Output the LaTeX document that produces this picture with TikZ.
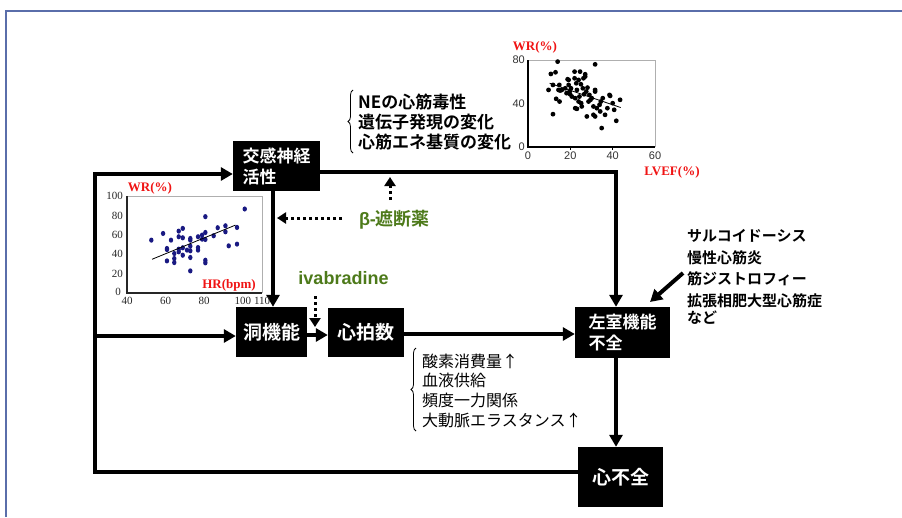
\documentclass[tikz,border=0pt]{standalone}
\usepackage{fontspec}
\usetikzlibrary{arrows.meta,decorations.pathreplacing}
\newfontfamily\jp{Noto Sans CJK JP}[BoldFont={Noto Sans CJK JP Bold}]
\newfontfamily\lsans{Liberation Sans}
\newfontfamily\lserif{Liberation Serif}
\definecolor{framec}{RGB}{90,110,170}
\definecolor{drgreen}{RGB}{77,122,26}
\definecolor{wrred}{RGB}{240,20,20}
\definecolor{navydot}{RGB}{25,25,130}
\definecolor{axgray}{RGB}{175,175,175}
\tikzset{
  blk/.style={fill=black,text=white,inner sep=0pt,font=\jp\bfseries\fontsize{17pt}{21pt}\selectfont},
  blkbig/.style={blk,font=\jp\bfseries\fontsize{19pt}{21pt}\selectfont},
  arr/.style={line width=4pt,line join=miter,-{Triangle[length=12pt,width=13pt]}},
  dotarr/.style={line width=3pt,dash pattern=on 3pt off 3pt,-{Triangle[length=9pt,width=11pt]}},
  lbl/.style={inner sep=0pt,anchor=west},
  toplist/.style={lbl,font=\jp\bfseries\fontsize{17pt}{20pt}\selectfont},
  rightlist/.style={lbl,font=\jp\bfseries\fontsize{15pt}{18pt}\selectfont},
  botlist/.style={lbl,font=\jp\fontsize{16pt}{19pt}\selectfont},
  grn/.style={inner sep=0pt,text=drgreen,font=\lsans\bfseries\fontsize{18pt}{20pt}\selectfont},
  redlab/.style={inner sep=0pt,text=wrred,font=\lserif\bfseries\fontsize{13pt}{14pt}\selectfont},
  tickA/.style={inner sep=0pt,text=black!80,font=\lsans\fontsize{11pt}{12pt}\selectfont},
  tickB/.style={inner sep=0pt,text=black!85,font=\lserif\fontsize{11pt}{12pt}\selectfont},
  brc/.style={line width=0.8pt,decorate,decoration={brace,amplitude=5pt}}
}
\begin{document}
\begin{tikzpicture}[x=1pt,y=-1pt]
\useasboundingbox (0,0) rectangle (902,517);
\fill[white] (0,0) rectangle (902,517);
\draw[framec,line width=1.3pt] (6,517) -- (6,11) -- (902,11);

% boxes
\node[blk,minimum width=87pt,minimum height=50pt,align=left] (sym) at (276.5,166) {交感神経\\活性};
\node[blkbig,minimum width=71pt,minimum height=50pt] (sinus) at (271.5,332) {洞機能};
\node[blkbig,minimum width=76pt,minimum height=49pt] (hr) at (366,332.5) {心拍数};
\node[blk,minimum width=95pt,minimum height=51pt,align=left] (lv) at (622.5,332.5) {左室機能\\不全};
\node[blkbig,minimum width=85pt,minimum height=60pt] (hf) at (620.5,477) {心不全};

% connectors
\coordinate (cBL) at (95,472);
\coordinate (cTL) at (95,174);
\coordinate (cML) at (95,336);
\draw[arr] (hf.west |- cBL) -- (cBL) -- (cTL) -- (sym.west |- cTL);
\draw[arr] (cML) -- (sinus.west |- cML);
\coordinate (cTR) at (616,172);
\draw[arr] (sym.east |- cTR) -- (cTR) -- (lv.north -| cTR);
\coordinate (vx) at (273,0);
\draw[arr] (sym.south -| vx) -- (sinus.north -| vx);
\coordinate (hy) at (0,335);
\draw[arr] (sinus.east |- hy) -- (hr.west |- hy);
\coordinate (hy2) at (0,334);
\draw[arr] (hr.east |- hy2) -- (lv.west |- hy2);
\draw[arr] (lv.south -| cTR) -- (hf.north -| cTR);
\coordinate (ra) at (683,273);
\coordinate (rtip) at (650,302);
\draw[arr] (ra) -- (rtip);

% drugs
\node[grn] (beta) at (394.5,220) {β-{\jp\bfseries 遮断薬}};
\coordinate (bs1) at (342,218);
\coordinate (bt1) at (277,218);
\draw[dotarr] (bs1) -- (bt1);
\coordinate (bs2) at (390,200);
\coordinate (bt2) at (390,177);
\draw[dotarr] (bs2) -- (bt2);
\node[grn] (iva) at (343.5,278) {ivabradine};
\coordinate (is) at (315,296);
\coordinate (it) at (315,327);
\draw[dotarr] (is) -- (it);

% top list
\node[toplist] (t1) at (358,102) {NEの心筋毒性};
\node[toplist] (t2) at (358,122) {遺伝子発現の変化};
\node[toplist] (t3) at (358,142) {心筋エネ基質の変化};
\draw[brc] (353,153) -- (353,90);

% right list
\node[rightlist] (r1) at (687,236) {サルコイドーシス};
\node[rightlist] (r2) at (687,258) {慢性心筋炎};
\node[rightlist] (r3) at (687,279) {筋ジストロフィー};
\node[rightlist] (r4) at (687,301) {拡張相肥大型心筋症};
\node[rightlist] (r5) at (687,318) {など};

% bottom list
\node[botlist] (b1) at (422,361) {酸素消費量↑};
\node[botlist] (b2) at (422,380) {血液供給};
\node[botlist] (b3) at (422,400) {頻度一力関係};
\node[botlist] (b4) at (422,420) {大動脈エラスタンス↑};
\draw[brc] (416,431) -- (416,348);

% plot 1 (LVEF vs WR)
\begin{scope}[shift={(528pt,-147pt)},x=2.117pt,y=1.0875pt]
  \draw[axgray,line width=1pt] (0,80) -- (60,80) -- (60,0);
  \draw[black,line width=1.2pt] (0,80) -- (0,0) -- (60,0);
  \foreach \t in {20,40} \draw[line width=0.8pt] (\t,0) -- ++(0,-3pt);
  \foreach \t in {0,20,40,60} \node[tickA,below=5pt] at (\t,0) {\t};
  \foreach \t in {0,40,80} \node[tickA,left=3pt] at (0,\t) {\t};
  \foreach \p in {(9.7,52.5),(10.8,67.2),(11.8,57.1),(11.8,30.2),(13,68.7),(13.3,44.3),(14,78.5),(14.4,52.5),(14.8,57.1),(14.9,41.8),(15.2,51.9),(16,52.5),(17.6,54),(18.2,49.5),(18.7,62.3),(19.2,61.7),(19.2,57.1),(19.6,51),(19.9,48.5),(20.3,54),(20.7,46.4),(22,69.3),(22,63.2),(22.3,44.9),(22.3,35.7),(22.8,58.6),(23.1,52.5),(23.1,35.1),(23.9,61.7),(24.3,46.4),(24.6,69.3),(25,57.7),(25.1,40.3),(25.4,37.3),(25.9,54),(26.2,63.2),(26.5,48.5),(27,66.9),(27,64.8),(27.5,51),(27.8,28.1),(28.1,54.6),(28.6,41.8),(29,47.9),(30.1,44.9),(30.9,29.6),(31.7,52.5),(31.7,51),(31.7,76),(31.7,28.1),(32.5,35.7),(33.8,38.8),(34.4,41.8),(34.8,17.4),(35.3,44.9),(36.4,29.6),(37.5,35.7),(38.5,47.9),(38.8,47),(40,40.3),(40.7,34.2),(41.7,24.1),(43.5,43.4),(34.1,32.7),(29.5,43.4),(23.9,41.8),(30.9,37.3)}
    \fill[black] \p circle (2.4pt);
  \draw[black,line width=0.8pt] (10.2,58.6) -- (43.8,36.3);
\end{scope}
\node[redlab] (wr1) at (535,47) {WR(\%)};
\node[redlab] (lvef) at (672,172) {LVEF(\%)};

% plot 2 (HR vs WR)
\begin{scope}[shift={(49.8pt,-293pt)},x=1.93pt,y=0.97pt]
  \draw[axgray,line width=1pt] (40,100) -- (110,100) -- (110,0);
  \draw[black!85,line width=1.2pt] (40,100) -- (40,0) -- (110,0);
  \foreach \t in {40,60,80,100,110} \node[tickB,below=4pt] at (\t,0) {\t};
  \foreach \t in {20,40,60,80,100} \node[tickB,left=4pt] at (40,\t) {\t};
  \node[tickB,left=6pt,yshift=1pt] at (40,0) {0};
  \foreach \p in {(52.6,54.5),(58.7,61.4),(60.7,45.9),(60.7,44.8),(60.7,33.1),(62.8,54.5),(64.5,40.7),(64.5,35.5),(64.5,31.4),(66.8,63.8),(66.8,58),(66.8,45.2),(66.8,42.4),(68.9,66.6),(68.9,56.9),(68.9,46.6),(68.9,39),(71.1,44.2),(72.8,56.2),(72.8,54.5),(72.8,48.3),(72.8,43.5),(72.8,36.6),(72.8,22.8),(76.8,58),(76.8,46.9),(76.8,44.2),(78.9,59.7),(78.9,55.5),(80.6,78.7),(80.6,62.4),(80.6,55.2),(80.6,33.8),(80.6,31.1),(84.9,59),(87,67.3),(91,69.3),(91,63.1),(92.7,48.6),(97,50.4),(97,67.6),(101,86.6)}
    \fill[navydot] \p ellipse (2.2pt and 2.6pt);
  \draw[black,line width=0.8pt] (53,34.8) -- (96.2,70);
\end{scope}
\node[redlab] (wr2) at (150,188) {WR(\%)};
\node[redlab] (hrb) at (229,285) {HR(bpm)};
\end{tikzpicture}
\end{document}
